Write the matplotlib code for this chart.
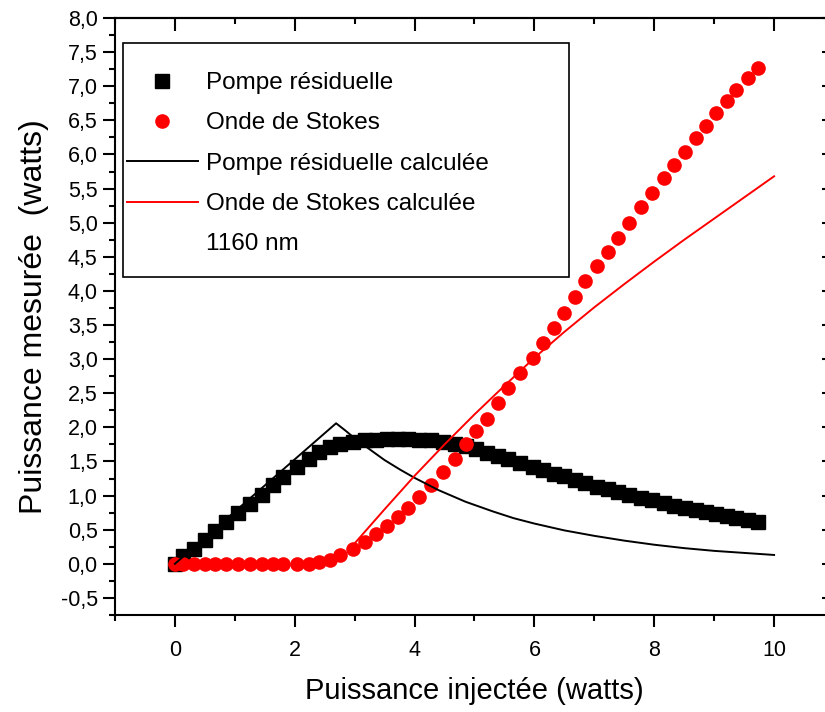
# mesures puissance pompe residuelle / onde de Stokes (1160 nm)
import matplotlib
matplotlib.use('Agg')
import matplotlib.pyplot as plt
from matplotlib.lines import Line2D
from matplotlib.patches import Rectangle
from matplotlib.ticker import MultipleLocator, FuncFormatter

plt.rcParams['font.family'] = ['Liberation Sans', 'DejaVu Sans']

# puissance injectee (watts), commune aux deux series mesurees
p_inj = [0.00, 0.14, 0.32, 0.50, 0.67, 0.86, 1.06, 1.25, 1.45, 1.63,
         1.81, 2.03, 2.23, 2.41, 2.59, 2.76, 2.97, 3.17, 3.36, 3.54,
         3.73, 3.89, 4.08, 4.27, 4.48, 4.67, 4.85, 5.03, 5.21, 5.40,
         5.56, 5.76, 5.98, 6.14, 6.33, 6.50, 6.68, 6.85, 7.04, 7.22,
         7.39, 7.58, 7.78, 7.97, 8.16, 8.33, 8.51, 8.69, 8.86, 9.03,
         9.21, 9.37, 9.56, 9.73]

pompe_res = [0.00, 0.12, 0.22, 0.35, 0.48, 0.62, 0.75, 0.88, 1.01, 1.15,
             1.27, 1.42, 1.54, 1.64, 1.71, 1.76, 1.79, 1.81, 1.82, 1.83,
             1.83, 1.83, 1.82, 1.81, 1.79, 1.76, 1.72, 1.68, 1.63, 1.58,
             1.53, 1.48, 1.42, 1.37, 1.32, 1.28, 1.23, 1.18, 1.13, 1.09,
             1.05, 1.01, 0.97, 0.93, 0.89, 0.85, 0.82, 0.79, 0.76, 0.73,
             0.70, 0.67, 0.64, 0.61]

stokes = [0.00, 0.00, 0.00, 0.00, 0.00, 0.00, 0.00, 0.00, 0.00, 0.00,
          0.00, 0.00, 0.00, 0.02, 0.06, 0.13, 0.22, 0.32, 0.43, 0.55,
          0.68, 0.82, 0.98, 1.16, 1.34, 1.54, 1.75, 1.94, 2.12, 2.35,
          2.57, 2.80, 3.01, 3.24, 3.46, 3.67, 3.91, 4.14, 4.36, 4.57,
          4.77, 5.00, 5.23, 5.43, 5.65, 5.85, 6.04, 6.24, 6.42, 6.61,
          6.78, 6.95, 7.12, 7.27]

# courbes calculees
p_pompe_calc = [0.0, 2.69, 2.85, 3.0, 3.2, 3.5, 3.76, 4.0, 4.4, 4.85,
                5.3, 5.65, 6.0, 6.5, 7.0, 7.5, 8.0, 8.5, 9.0, 9.5, 10.0]
pompe_calc = [0.0, 2.06, 1.95, 1.84, 1.71, 1.52, 1.38, 1.26, 1.08, 0.91,
              0.77, 0.67, 0.59, 0.49, 0.41, 0.34, 0.28, 0.23, 0.19, 0.16, 0.13]

p_stokes_calc = [2.98, 3.5, 4.0, 4.5, 5.0, 5.5, 6.0, 6.5, 7.0, 7.5,
                 8.0, 8.5, 9.0, 9.5, 10.0]
stokes_calc = [0.28, 0.80, 1.29, 1.75, 2.19, 2.61, 3.02, 3.40, 3.76, 4.10,
               4.43, 4.75, 5.06, 5.37, 5.68]

W, H = 825, 712
fig = plt.figure(figsize=(W / 100, H / 100), dpi=100)
# axe droit coupe par le bord de l'image, comme dans l'original
ax = fig.add_axes([115 / W, (H - 615) / H, (834 - 115) / W, (615 - 18) / H])

sq, = ax.plot(p_inj, pompe_res, 's', color='black', markersize=9.5, zorder=2)
ci, = ax.plot(p_inj, stokes, 'o', color='red', markersize=9.5, zorder=3)
lb, = ax.plot(p_pompe_calc, pompe_calc, '-', color='black', lw=1.4, zorder=4)
lr, = ax.plot(p_stokes_calc, stokes_calc, '-', color='red', lw=1.4, zorder=4)

ax.set_xlim(-1, 11)
ax.set_ylim(-0.75, 8.0)

ax.xaxis.set_major_locator(MultipleLocator(2))
ax.xaxis.set_minor_locator(MultipleLocator(1))
ax.yaxis.set_major_locator(MultipleLocator(0.5))
ax.yaxis.set_minor_locator(MultipleLocator(0.25))
ax.yaxis.set_major_formatter(FuncFormatter(lambda v, p: f"{v:.1f}".replace('.', ',')))

ax.tick_params(which='both', direction='out', width=1.5, top=False, right=False,
               labelsize=15.5)
ax.tick_params(which='major', length=8.5, pad=4)
ax.tick_params(which='minor', length=4)
ax.tick_params(axis='x', which='major', pad=9.5)
for s in ax.spines.values():
    s.set_linewidth(1.5)

# ticks vers l'interieur en haut et a droite
top = ax.secondary_xaxis('top')
top.xaxis.set_major_locator(MultipleLocator(2))
top.xaxis.set_minor_locator(MultipleLocator(1))
top.tick_params(which='both', direction='in', width=1.5, labeltop=False)
top.tick_params(which='major', length=9)
top.tick_params(which='minor', length=4.5)
top.spines['top'].set_linewidth(1.5)

right = ax.secondary_yaxis('right')
right.yaxis.set_major_locator(MultipleLocator(0.5))
right.yaxis.set_minor_locator(MultipleLocator(0.25))
right.tick_params(which='both', direction='in', width=1.5, labelright=False)
right.tick_params(which='major', length=9)
right.tick_params(which='minor', length=4.5)
right.spines['right'].set_linewidth(1.5)

ax.set_xlabel('Puissance injectée (watts)', fontsize=21)
ax.set_ylabel('Puissance mesurée  (watts)', fontsize=23)
ax.xaxis.set_label_coords(0.5, -0.104)
ax.yaxis.set_label_coords(-0.092, 0.5)

# legende : cadre dessine a part
frame = Rectangle((123 / W, 1 - 277 / H), (569 - 123) / W, (277 - 43) / H,
                  transform=fig.transFigure, facecolor='white', edgecolor='black',
                  lw=1.2, zorder=5, clip_on=False)
ax.add_patch(frame)
blank = Line2D([], [], linestyle='none')
leg = ax.legend([sq, ci, lb, lr, blank],
                ['Pompe résiduelle', 'Onde de Stokes', 'Pompe résiduelle calculée',
                 'Onde de Stokes calculée', '1160 nm'],
                loc='upper left', bbox_to_anchor=(127 / W, 1 - 72 / H),
                bbox_transform=fig.transFigure, frameon=False, fontsize=17.5,
                handlelength=2.92, handletextpad=0.35, labelspacing=0.755,
                borderpad=0, borderaxespad=0, numpoints=1)
leg.set_zorder(6)

fig.savefig('out.png', dpi=100)
